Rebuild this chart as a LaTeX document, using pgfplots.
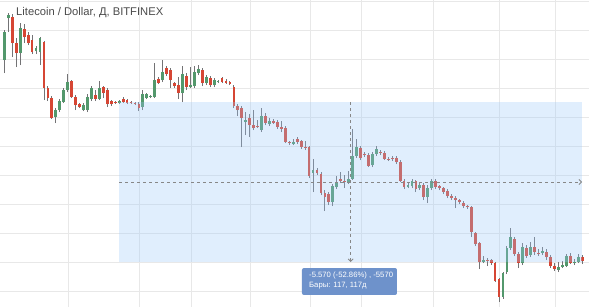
\documentclass[border=0pt]{standalone}
\usepackage{fontspec}
\setmainfont{Liberation Sans}
\usepackage{pgfplots}
\usepackage{pgfplotstable}
\pgfplotsset{compat=1.18}
\usetikzlibrary{arrows.meta}
\definecolor{upc}{RGB}{83,152,108}
\definecolor{dnc}{RGB}{214,70,52}
\definecolor{wickc}{RGB}{115,115,117}
\definecolor{gridc}{RGB}{232,232,232}
\definecolor{rngc}{RGB}{155,200,250}
\definecolor{tipc}{RGB}{110,146,203}
\definecolor{dashc}{RGB}{135,135,135}
\definecolor{titlec}{RGB}{75,75,75}

% candle data: i = bar index, o h l c = open/high/low/close read as pixel heights (converted to price below)
\pgfplotstableread{
i o h l c
0 60 30 73 32
1 18 13 32 15
4 53 23 65 28
8 51 46 54 48
9 52 37 65 38
13 117 108 123 110
14 110 99 112 101
15 102 88 103 90
16 90 74 92 82
20 110 103 111 105
21 110 94 112 97
22 99 86 101 88
24 99 81 100 88
29 103 100 104 101
35 107 90 110 94
36 98 93 99 94
37 97 95 98 96
38 97 63 98 80
40 80 60 82 72
45 93 66 102 74
47 87 67 88 85
48 86 66 88 72
49 73 65 75 69
51 83 75 85 77
53 85 78 87 80
54 82 80 83 81
61 122 112 135 120
65 130 108 132 116
67 124 118 126 121
73 144 139 145 142
78 173 159 192 170
83 202 184 206 186
84 187 176 189 182
87 182 171 184 179
88 179 129 180 156
89 156 139 158 147
93 165 152 167 154
94 154 146 156 149
102 187 183 188 185
103 186 179 188 181
105 188 182 190 185
107 197 185 203 188
108 188 179 190 181
121 262 256 263 260
126 297 272 299 273
127 272 246 274 248
128 248 228 250 237
131 263 243 265 247
133 255 242 257 247
136 253 247 255 251
140 270 262 272 267
141 267 261 268 265
142 266 254 267 256
144 263 259 265 262
145 262 254 263 257
}\upcandles

\pgfplotstableread{
i o h l c
2 17 14 57 43
3 43 38 67 53
5 29 24 43 37
6 35 32 45 43
7 40 35 54 52
10 42 41 100 88
11 88 86 101 98
12 98 96 119 118
17 81 80 98 97
18 97 95 110 105
19 104 103 108 107
23 95 90 101 99
25 87 86 98 93
26 90 88 107 104
27 101 100 106 104
28 102 101 104 103
30 99 97 103 102
31 100 99 104 103
32 102 101 104 103
33 103 102 105 104
34 104 102 111 108
39 79 77 84 83
41 68 66 76 74
42 70 68 88 80
43 83 82 88 86
44 85 77 99 93
46 76 73 90 87
50 70 68 86 83
52 78 76 87 85
55 78 77 83 82
56 81 79 84 83
57 82 81 85 84
58 87 85 108 106
59 106 104 116 110
60 108 106 147 118
62 118 114 137 125
63 125 110 130 128
64 126 120 128 127
66 116 113 125 123
68 121 119 124 123
69 122 120 129 127
70 127 121 132 129
71 128 126 143 142
72 142 141 145 143
74 139 137 144 142
75 141 140 149 147
76 147 141 150 148
77 147 146 178 176
79 170 168 175 173
80 174 172 195 193
81 193 190 211 197
82 194 192 205 202
85 179 172 183 181
86 181 175 188 182
90 148 146 160 158
91 154 152 157 155
92 155 153 167 166
95 152 150 155 153
96 153 151 160 159
97 159 157 161 160
98 158 156 161 159
99 158 156 164 162
100 162 160 182 181
101 181 179 189 187
104 181 180 192 189
106 185 183 200 197
109 181 179 189 187
110 186 185 190 188
111 188 187 194 192
112 191 189 198 196
113 196 194 200 198
114 198 196 208 200
115 200 199 204 202
116 203 201 208 206
117 206 205 209 207
118 207 206 237 232
119 233 232 246 244
120 243 242 269 262
122 260 258 266 261
123 260 259 265 263
124 263 262 282 281
125 279 278 302 297
129 239 237 256 254
130 254 252 268 263
132 248 245 258 256
134 247 237 255 252
135 253 249 256 254
137 252 249 260 257
138 257 255 268 266
139 266 263 271 269
143 256 253 264 263
146 257 255 264 261
}\dncandles

\begin{document}
\begin{tikzpicture}
\fill[white] (0,0) rectangle (589bp,307bp);
\begin{axis}[
  at={(0,0)}, anchor=south west,
  scale only axis, width=589bp, height=307bp,
  xmin=-1.112, xmax=147.74, ymin=3.4655, ymax=14.052,
  axis line style={draw=none}, tick style={draw=none},
  xtick={16.07,34.09,47.23,62.24,77.23,90.12,108.3,125.07,139.15},
  ytick={4,5,...,14},
  xticklabels={}, yticklabels={},
  grid=major, major grid style={draw=gridc, line width=0.8bp},
  clip=true,
]
% wicks
\addplot[draw=none, mark=none, forget plot,
  error bars/.cd, y dir=plus, y explicit, error mark=none,
  error bar style={draw=wickc, line width=0.9bp, solid}]
  table[x=i, y expr={4+(291.5-\thisrow{l})/29}, y error expr={(\thisrow{l}-\thisrow{h})/29}] {\upcandles};
\addplot[draw=none, mark=none, forget plot,
  error bars/.cd, y dir=plus, y explicit, error mark=none,
  error bar style={draw=wickc, line width=0.9bp, solid}]
  table[x=i, y expr={4+(291.5-\thisrow{l})/29}, y error expr={(\thisrow{l}-\thisrow{h})/29}] {\dncandles};
% bodies
\addplot[draw=none, mark=none, forget plot,
  error bars/.cd, y dir=plus, y explicit, error mark=none,
  error bar style={draw=upc, line width=2.8bp, solid}]
  table[x=i, y expr={4+(291.5-\thisrow{o})/29}, y error expr={max(\thisrow{o}-\thisrow{c},1)/29}] {\upcandles};
\addplot[draw=none, mark=none, forget plot,
  error bars/.cd, y dir=plus, y explicit, error mark=none,
  error bar style={draw=dnc, line width=2.8bp, solid}]
  table[x=i, y expr={4+(291.5-\thisrow{c})/29}, y error expr={max(\thisrow{c}-\thisrow{o},1)/29}] {\dncandles};
% date/price range overlay
\fill[rngc, fill opacity=0.3] (axis cs:29,10.5345) rectangle (axis cs:146,5.0172);
\draw[dashc, line width=0.9bp, dash pattern=on 3bp off 3bp, -{Straight Barb[length=2.5bp,width=5bp]}]
  (axis cs:29,7.776) -- (axis cs:146,7.776);
\draw[dashc, line width=0.9bp, dash pattern=on 3bp off 3bp, -{Straight Barb[length=2.5bp,width=5bp]}]
  (axis cs:87.5,10.5345) -- (axis cs:87.5,5.0172);
% title
\node[anchor=base west, text=titlec, font=\fontsize{11.2bp}{13bp}\selectfont, inner sep=0pt]
  at (rel axis cs:0.0272,0.9479) {Litecoin / Dollar, Д, BITFINEX};
% tooltip
\fill[tipc, rounded corners=2bp] (rel axis cs:0.5127,0.1270) rectangle (rel axis cs:0.6740,0.0391);
\node[anchor=base west, text=white, font=\fontsize{7.7bp}{9bp}\selectfont, inner sep=0pt]
  at (rel axis cs:0.5246,0.0961) {-5.570 (-52.86\%) , -5570};
\node[anchor=base west, text=white, font=\fontsize{7.7bp}{9bp}\selectfont, inner sep=0pt]
  at (rel axis cs:0.5246,0.0635) {Бары: 117, 117д};
\end{axis}
\pgfresetboundingbox
\useasboundingbox (0,0) rectangle (589bp,307bp);
\end{tikzpicture}
\end{document}
